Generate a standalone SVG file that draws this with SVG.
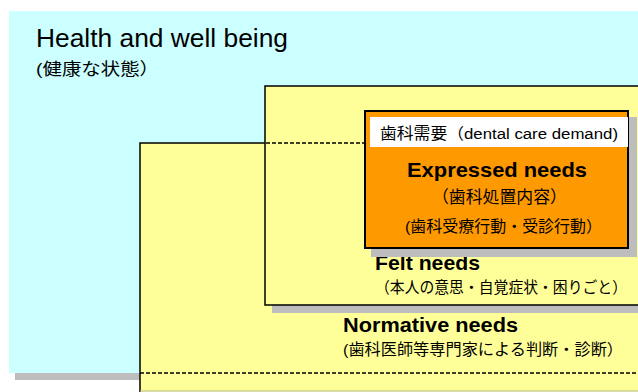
<svg xmlns="http://www.w3.org/2000/svg" width="638" height="392" viewBox="0 0 638 392">
<style>
.t{font-family:"Liberation Sans","Noto Sans CJK JP",sans-serif;fill:#000}
.b{font-weight:bold}
.sh{fill:#BDBDBD}
.yl{fill:#FFFF99}
.ln{stroke:#000;stroke-width:1.5;fill:none}
.dash{stroke:#000;stroke-width:1.5;stroke-dasharray:4 2;fill:none}
</style>
<rect width="638" height="392" fill="#fff"/>
<g id="health">
<rect class="sh" x="15" y="373" width="130" height="7"/>
<rect x="9" y="11" width="629" height="362" fill="#CCFFFF"/>
<text class="t" x="36" y="47" font-size="25" textLength="252" lengthAdjust="spacingAndGlyphs">Health and well being</text>
<text class="t" x="36" y="75" font-size="17" textLength="123" lengthAdjust="spacingAndGlyphs">(健康な状態）</text>
</g>
<g id="normative">
<rect class="yl" x="140" y="143" width="500" height="248"/>
<path class="ln" d="M140,392 V143 H266"/>
<line x1="140" y1="391" x2="638" y2="391" stroke="#B8B870" stroke-width="1"/>
<line class="dash" x1="140" y1="373" x2="638" y2="373"/>
<text class="t b" x="343" y="332" font-size="20" textLength="175" lengthAdjust="spacingAndGlyphs">Normative needs</text>
<text class="t" x="343" y="355" font-size="15.5" textLength="280" lengthAdjust="spacingAndGlyphs">(歯科医師等専門家による判断・診断）</text>
</g>
<g id="felt">
<rect class="sh" x="272" y="305" width="366" height="8"/>
<rect class="yl" x="265" y="86" width="380" height="219"/>
<path class="ln" d="M640,86 H265 V305 H640"/>
<line class="dash" x1="266" y1="143" x2="638" y2="143"/>
<text class="t b" x="375" y="270" font-size="21" textLength="105" lengthAdjust="spacingAndGlyphs">Felt needs</text>
<text class="t" x="375" y="293" font-size="15.5" textLength="252" lengthAdjust="spacingAndGlyphs">（本人の意思・自覚症状・困りごと）</text>
</g>
<g id="expressed">
<rect class="sh" x="371" y="117" width="266" height="140"/>
<rect x="365" y="111" width="263" height="137" fill="#FF9900" stroke="#000" stroke-width="2"/>
<rect x="370" y="117" width="258" height="30" fill="#fff"/>
<text class="t" x="380" y="139" font-size="15.5" textLength="238" lengthAdjust="spacingAndGlyphs">歯科需要（dental care demand)</text>
<text class="t b" x="407" y="177" font-size="21" textLength="180" lengthAdjust="spacingAndGlyphs">Expressed needs</text>
<text class="t" x="432" y="203" font-size="17" textLength="135" lengthAdjust="spacingAndGlyphs">（歯科処置内容）</text>
<text class="t" x="405" y="232" font-size="15.5" textLength="197" lengthAdjust="spacingAndGlyphs">(歯科受療行動・受診行動）</text>
</g>
</svg>
